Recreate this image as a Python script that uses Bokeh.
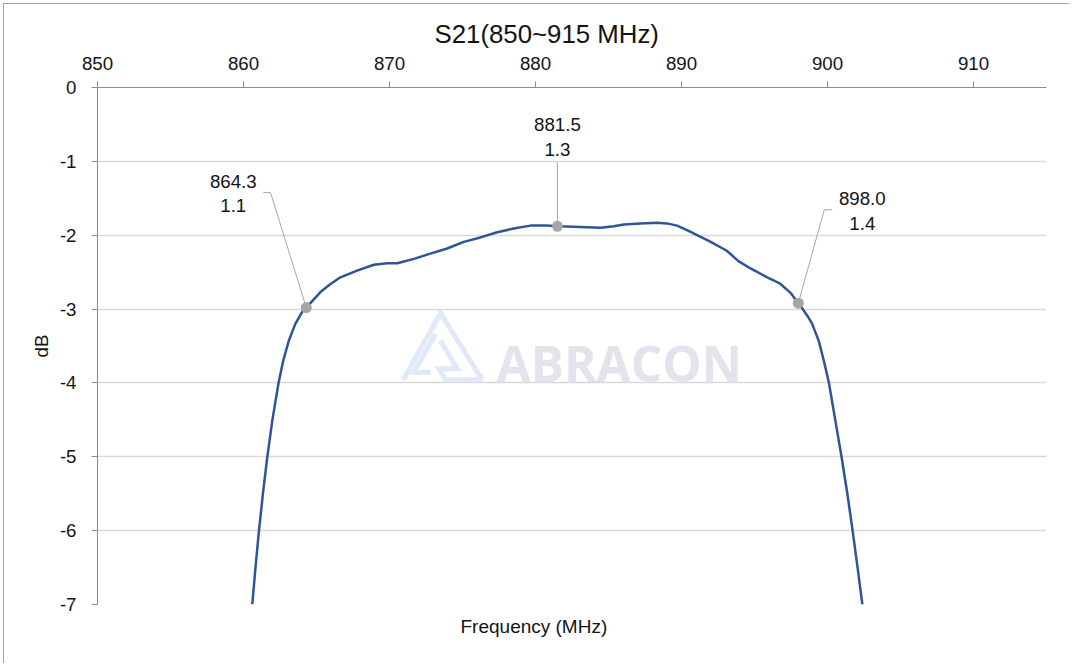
from bokeh.plotting import figure
from bokeh.models import Range1d, FixedTicker, Title, ColumnDataSource
from bokeh.core.properties import value
from bokeh.embed import file_html
from bokeh.resources import INLINE

# ---------------- data ----------------
freq = [860.6, 860.82, 861.06, 861.33, 861.63, 861.98, 862.4, 862.72, 863.1, 863.55,
        864.13, 864.3, 865.27, 865.96, 866.64, 867.78, 868.93, 869.84, 870.53, 871.67, 872.8,
        873.95, 875.09, 876.23, 877.38, 878.5, 879.66, 880.77, 881.5, 883.08, 884.45,
        885.36, 886.05, 887.19, 888.33, 889.0, 889.7, 890.38, 891.07, 892.0, 893.1,
        893.9, 894.73, 895.87, 896.3, 896.78, 897.47, 898.0, 898.3, 898.65, 898.95, 899.4,
        899.75, 900.1, 900.53, 900.96, 901.36, 901.72, 902.06, 902.39]
s21 = [-7.0, -6.5, -6.0, -5.5, -5.0, -4.5, -4.0, -3.70, -3.43, -3.2,
       -3.0, -2.98, -2.77, -2.66, -2.57, -2.48, -2.40, -2.38, -2.38, -2.32, -2.25,
       -2.18, -2.09, -2.03, -1.96, -1.91, -1.87, -1.87, -1.88, -1.89, -1.90,
       -1.88, -1.855, -1.84, -1.83, -1.84, -1.87, -1.93, -2.00, -2.09, -2.21,
       -2.35, -2.45, -2.57, -2.61, -2.66, -2.78, -2.92, -3.0, -3.1, -3.2, -3.43,
       -3.70, -4.0, -4.5, -5.0, -5.5, -6.0, -6.5, -7.0]

marker_freq = [864.3, 881.5, 898.0]
marker_db = [-2.98, -1.88, -2.92]
marker_text = ["864.3\n1.1", "881.5\n1.3", "898.0\n1.4"]

x_ticks = [850, 860, 870, 880, 890, 900, 910]
y_ticks = [0, -1, -2, -3, -4, -5, -6, -7]
y_tick_labels = ["0", "-1", "-2", "-3", "-4", "-5", "-6", "-7"]

title_text = "S21(850~915 MHz)"
x_label = "Frequency (MHz)"
y_label = "dB"
watermark = "ABRACON"

# ---------------- layout / style ----------------
FONT = "Liberation Sans"
TXT = "#141414"
W, H = 1066, 660
FL, FT = 93, 83          # frame left / top in canvas px
FW, FH = 949, 517        # frame size
XMIN, XMAX, YMIN, YMAX = 850, 915, -7, 0
SX = FW / (XMAX - XMIN)
SY = FH / (YMAX - YMIN)

def px_to_data(px, py):
    """reference screen px -> data (frame origin at screen 97, 87)"""
    return XMIN + (px - 97) / SX, YMAX - (py - 87) / SY

p = figure(width=W, height=H, output_backend="svg", toolbar_location=None,
           x_range=Range1d(XMIN, XMAX), y_range=Range1d(YMIN, YMAX),
           x_axis_location="above",
           min_border_left=FL, min_border_top=FT,
           min_border_right=W - FL - FW, min_border_bottom=H - FT - FH,
           background_fill_color="white", border_fill_color="white",
           styles={"margin-left": "3px", "margin-top": "3px",
                   "border-left": "1px solid #a6a6a6", "border-top": "1px solid #a6a6a6"})
p.outline_line_color = None

# grid
p.xgrid.visible = False
p.ygrid.ticker = FixedTicker(ticks=y_ticks)
p.ygrid.grid_line_color = "#d9d9d9"
p.ygrid.grid_line_width = 1.5

# x axis (top)
xa = p.xaxis[0]
xa.ticker = FixedTicker(ticks=x_ticks)
xa.major_tick_in = 0
xa.major_tick_out = 6
xa.minor_tick_line_color = None
xa.axis_line_color = "#8c8c8c"
xa.major_tick_line_color = "#8c8c8c"
xa.major_label_text_font = FONT
xa.major_label_text_font_size = "18.7px"
xa.major_label_text_color = TXT
xa.major_label_standoff = 12

# y axis
ya = p.yaxis[0]
ya.ticker = FixedTicker(ticks=y_ticks)
ya.major_label_overrides = {t: l for t, l in zip(y_ticks, y_tick_labels)}
ya.major_tick_in = 0
ya.major_tick_out = 6
ya.minor_tick_line_color = None
ya.axis_line_color = "#8c8c8c"
ya.major_tick_line_color = "#8c8c8c"
ya.major_label_text_font = FONT
ya.major_label_text_font_size = "18.7px"
ya.major_label_text_color = TXT
ya.major_label_standoff = 15
ya.axis_label = y_label
ya.axis_label_text_font = FONT
ya.axis_label_text_font_size = "18.7px"
ya.axis_label_text_font_style = "normal"
ya.axis_label_text_color = TXT
ya.axis_label_standoff = 5

# titles
p.title = Title(text=title_text, align="left", offset=337, text_font=FONT,
                text_font_size="25.8px", text_font_style="normal", text_color=TXT,
                standoff=11)
p.add_layout(Title(text=x_label, align="left", offset=363, text_font=FONT,
                   text_font_size="19px", text_font_style="normal", text_color=TXT,
                   standoff=18), "below")

# watermark logo (decorative)
logo_px = [
    [(402.7, 379.3), (440, 312.7), (481.7, 379.3)],
    [(435, 333.3), (413.3, 371.7), (430, 371.7)],
    [(440, 340), (456.7, 368.3), (438.3, 368.3), (445, 379.3), (481.7, 379.3)],
]
lx, ly = [], []
for seg in logo_px:
    pts = [px_to_data(a, b) for a, b in seg]
    lx.append([q[0] for q in pts])
    ly.append([q[1] for q in pts])
p.multi_line(lx, ly, line_color="#dfe9f8", line_width=5, line_join="miter")
wx, wy = px_to_data(496, 362.7)
p.text([wx], [wy], text=[watermark], text_font=value("Open Sans"), text_font_style="bold",
       text_font_size="49.5px", text_color="#e1e4ea", text_align="left",
       text_baseline="alphabetic")

# curve
p.line(freq, s21, line_color="#2f5597", line_width=2.5, line_join="round")

# leader lines
knee_dx = [-35.7, 0, 26]
knee_dy = [-115, -64, -93.4]
end_dx = [-43, 0, 34]
end_dy = [-115, -64, -93.4]
ldx, ldy = [], []
for f, d, kx, ky, ex, ey in zip(marker_freq, marker_db, knee_dx, knee_dy, end_dx, end_dy):
    ldx.append([f, f + kx / SX, f + ex / SX])
    ldy.append([d, d - ky / SY, d - ey / SY])
p.multi_line(ldx, ldy, line_color="#a6a6a6", line_width=1)

# markers
p.scatter(marker_freq, marker_db, size=11, fill_color="#a5a5a5", line_color=None)

# labels
src = ColumnDataSource(dict(x=marker_freq, y=marker_db, t=marker_text,
                            dx=[-73, 0, 64], dy=[-114, -89, -92]))
p.text("x", "y", text="t", x_offset="dx", y_offset="dy", source=src,
       text_font=value(FONT), text_font_size="18.7px", text_color=TXT,
       text_align="center", text_baseline="middle", text_line_height=1.18)

open("out.html", "w").write(file_html(p, INLINE))
